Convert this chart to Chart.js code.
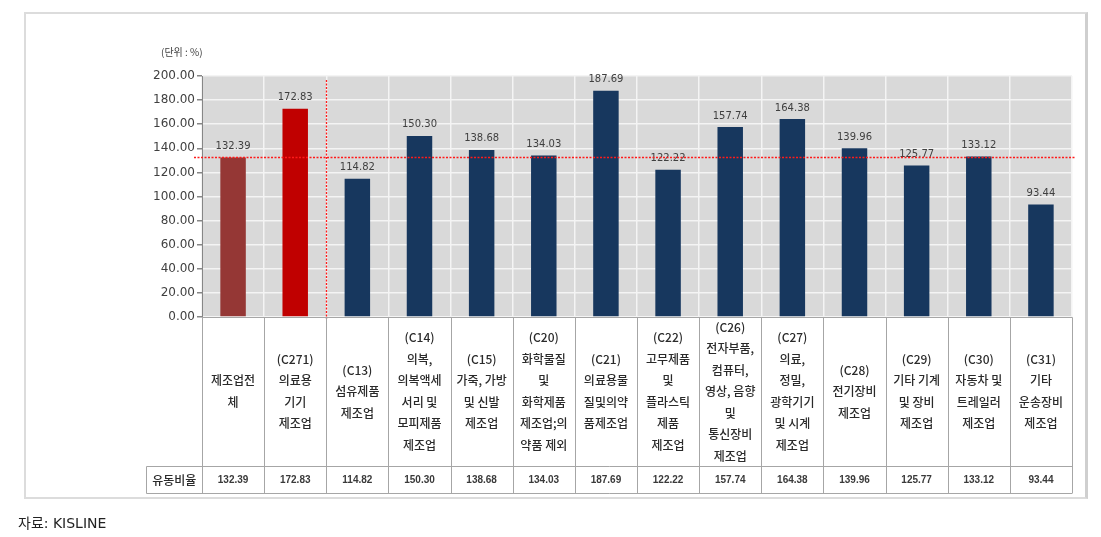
<!DOCTYPE html>
<html>
<head>
<meta charset="utf-8">
<script src="https://cdn.jsdelivr.net/npm/chart.js@4.4.0/dist/chart.umd.min.js"></script>
<style>
  body { margin: 0; background: #fff; }
  #wrap { position: relative; width: 1101px; height: 537px; }
  #frame { position: absolute; left: 24px; top: 12px; width: 1059px; height: 483px; border: 2px solid #dcdcdc; border-right: 3px solid #cfcfcf; }
  #src { position: absolute; left: 18px; top: 512px; font: 14px "DejaVu Sans", "Noto Sans CJK KR", sans-serif; color: #222; }
  #chart { position: absolute; left: 0; top: 0; }
</style>
</head>
<body>
<div id="wrap">
  <div id="frame"></div>
  <canvas id="chart" width="1101" height="537"></canvas>
  <div id="src">자료: KISLINE</div>
</div>
<script>
const categories = [
  ['제조업전', '체'],
  ['(C271)', '의료용', '기기', '제조업'],
  ['(C13)', '섬유제품', '제조업'],
  ['(C14)', '의복,', '의복액세', '서리 및', '모피제품', '제조업'],
  ['(C15)', '가죽, 가방', '및 신발', '제조업'],
  ['(C20)', '화학물질', '및', '화학제품', '제조업;의', '약품 제외'],
  ['(C21)', '의료용물', '질및의약', '품제조업'],
  ['(C22)', '고무제품', '및', '플라스틱', '제품', '제조업'],
  ['(C26)', '전자부품,', '컴퓨터,', '영상, 음향', '및', '통신장비', '제조업'],
  ['(C27)', '의료,', '정밀,', '광학기기', '및 시계', '제조업'],
  ['(C28)', '전기장비', '제조업'],
  ['(C29)', '기타 기계', '및 장비', '제조업'],
  ['(C30)', '자동차 및', '트레일러', '제조업'],
  ['(C31)', '기타', '운송장비', '제조업']
];
const ratios = [132.39, 172.83, 114.82, 150.30, 138.68, 134.03, 187.69, 122.22, 157.74, 164.38, 139.96, 125.77, 133.12, 93.44];
const rowHeader = '유동비율';
const unitLabel = '(단위 : %)';
const yMin = 0;
const yMax = 200;
const yStep = 20;

const barColors = ratios.map((v, i) => i === 0 ? '#953735' : (i === 1 ? '#c00000' : '#17375e'));

// gray plot background
const plotBg = {
  id: 'plotBg',
  beforeDraw(chart) {
    const { ctx, chartArea: a } = chart;
    ctx.save();
    ctx.fillStyle = '#d9d9d9';
    ctx.fillRect(a.left, a.top, a.right - a.left, a.bottom - a.top);
    ctx.restore();
  }
};

// value labels + red reference lines
const overlay = {
  id: 'overlay',
  afterDatasetsDraw(chart) {
    const { ctx, chartArea: a, scales: { x, y } } = chart;
    const colW = (a.right - a.left) / categories.length;
    ctx.save();
    ctx.font = '10px "DejaVu Sans"';
    ctx.fillStyle = '#404040';
    ctx.textAlign = 'center';
    ctx.textBaseline = 'bottom';
    ratios.forEach((v, i) => {
      ctx.fillText(v.toFixed(2), x.getPixelForValue(i), y.getPixelForValue(v) - 6);
    });
    ctx.strokeStyle = '#ff1a1a';
    ctx.lineWidth = 1.3;
    ctx.setLineDash([2, 1.5]);
    const ly = Math.round(y.getPixelForValue(ratios[0])) + 0.5;
    ctx.beginPath();
    ctx.moveTo(a.left - 8, ly);
    ctx.lineTo(a.right + 3, ly);
    const vx = Math.round(x.getPixelForValue(1) + colW / 2) + 0.5;
    ctx.moveTo(vx, a.top + 4);
    ctx.lineTo(vx, a.bottom + 2);
    ctx.stroke();
    ctx.restore();
  }
};

// data table under the plot
const table = {
  id: 'table',
  afterDraw(chart) {
    const { ctx, chartArea: a, scales: { x } } = chart;
    const colW = (a.right - a.left) / categories.length;
    const top = Math.round(a.bottom) + 0.5;
    const mid = top + 149;
    const bot = mid + 27;
    const headL = Math.round(a.left) - 56 + 0.5;
    ctx.save();
    ctx.strokeStyle = '#a6a6a6';
    ctx.lineWidth = 1;
    ctx.beginPath();
    ctx.moveTo(a.left, top); ctx.lineTo(a.right, top);
    ctx.moveTo(headL, mid); ctx.lineTo(a.right, mid);
    ctx.moveTo(headL, bot); ctx.lineTo(a.right, bot);
    ctx.moveTo(headL, mid); ctx.lineTo(headL, bot);
    for (let i = 0; i <= categories.length; i++) {
      const bx = Math.round(a.left + i * colW) + 0.5;
      ctx.moveTo(bx, top); ctx.lineTo(bx, bot);
    }
    ctx.stroke();

    ctx.fillStyle = '#2a2a2a';
    ctx.textAlign = 'center';
    ctx.textBaseline = 'middle';
    ctx.font = '500 12px "Noto Sans CJK KR"';
    const cy = top + 74;
    const lh = 21.5;
    categories.forEach((lines, i) => {
      const cx = x.getPixelForValue(i);
      lines.forEach((t, k) => ctx.fillText(t, cx, cy + (k - (lines.length - 1) / 2) * lh));
    });
    ctx.fillText(rowHeader, (headL + a.left) / 2, mid + 14);
    ctx.font = 'bold 10px "Liberation Sans"';
    ctx.fillStyle = '#3a3a3a';
    ratios.forEach((v, i) => ctx.fillText(v.toFixed(2), x.getPixelForValue(i), mid + 14));

    ctx.font = '10px "Noto Sans CJK KR"';
    ctx.textAlign = 'left';
    ctx.fillStyle = '#404040';
    ctx.fillText(unitLabel, 161, 52);
    ctx.restore();
  }
};

const ratioChart = document.getElementById('chart');

const ratioChart_1 = new Chart(ratioChart, {
  type: 'bar',
  data: {
    labels: categories,
    datasets: [{
      label: rowHeader,
      data: ratios,
      backgroundColor: barColors,
      borderWidth: 0,
      categoryPercentage: 1,
      barPercentage: 0.41,
    }]
  },
  options: {
    responsive: false,
    animation: false,
    layout: {
      padding: { left: 142, right: 29, top: 76, bottom: 220 }
    },
    scales: {
      x: {
        ticks: { display: false },
        grid: {
          color: '#f4f4f4',
          lineWidth: 1.5,
          drawTicks: false,
        },
        border: { color: '#a6a6a6' }
      },
      y: {
        min: yMin,
        max: yMax,
        afterFit(scale) { scale.width = 60; },
        ticks: {
          stepSize: yStep,
          padding: 2,
          color: '#404040',
          font: { family: 'DejaVu Sans', size: 12 },
          callback: (v) => Number(v).toFixed(2)
        },
        grid: {
          color: '#f4f4f4',
          lineWidth: 1.5,
          tickLength: 5,
          tickColor: '#868686',
        },
        border: { color: '#868686' }
      }
    },
    plugins: {
      legend: { display: false },
      tooltip: { enabled: false }
    }
  },
  plugins: [plotBg, overlay, table]
});
</script>
</body>
</html>
